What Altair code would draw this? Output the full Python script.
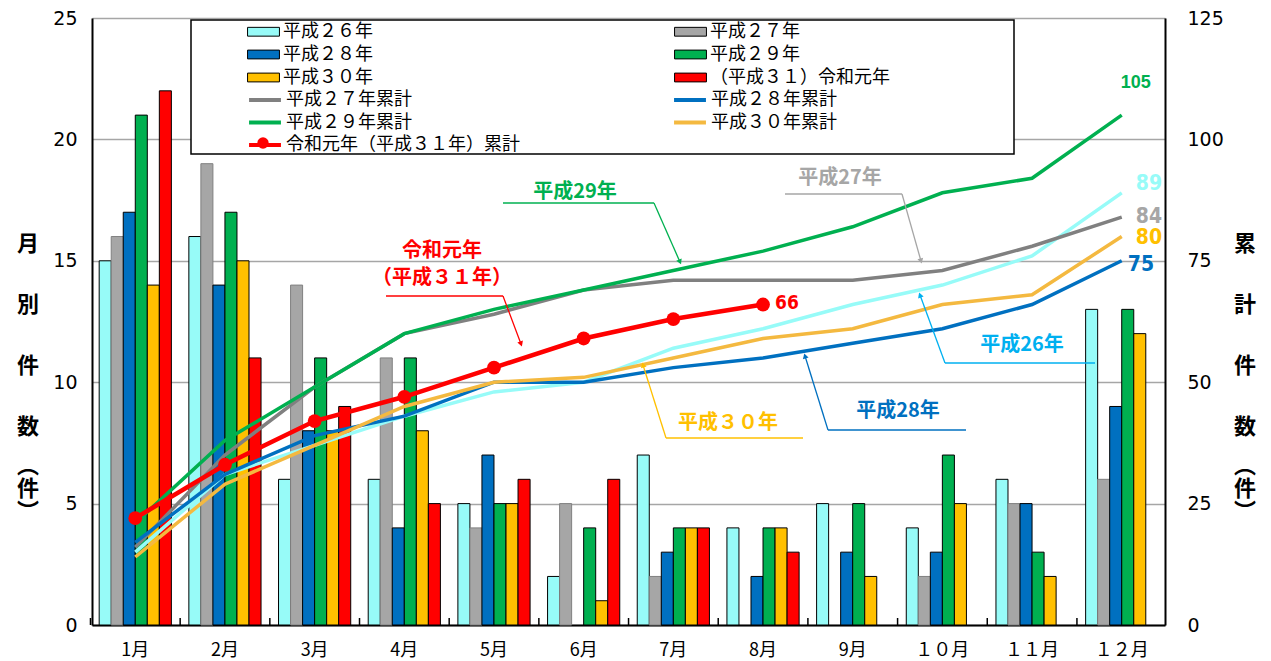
import altair as alt
import pandas as pd
from itertools import accumulate

# ---------------- data ----------------
months = ["1月", "2月", "3月", "4月", "5月", "6月", "7月", "8月", "9月", "１０月", "１１月", "１２月"]

bar_names = ["平成２６年", "平成２７年", "平成２８年", "平成２９年", "平成３０年", "（平成３１）令和元年"]
cum_names = ["平成２６年累計", "平成２７年累計", "平成２８年累計", "平成２９年累計", "平成３０年累計",
             "令和元年（平成３１年）累計"]

h26 = [15, 16, 6, 6, 5, 2, 7, 4, 5, 4, 6, 13]
h27 = [16, 19, 14, 11, 4, 5, 2, 0, 0, 2, 5, 6]
h28 = [17, 14, 8, 4, 7, 0, 3, 2, 3, 3, 5, 9]
h29 = [21, 17, 11, 11, 5, 4, 4, 4, 5, 7, 3, 13]
h30 = [14, 15, 8, 8, 5, 1, 4, 4, 2, 5, 2, 12]
r1 = [22, 11, 9, 5, 6, 6, 4, 3]

left_ticks = [0, 5, 10, 15, 20, 25]
right_ticks = [0, 25, 50, 75, 100, 125]

bar_colors = ["#97FBF8", "#A6A6A6", "#0070C0", "#00B050", "#FFC000", "#FF0000"]
line_colors = ["#97FBF8", "#808080", "#0070C0", "#00B050", "#F4B940", "#FF0000"]
label_colors = ["#97FBF8", "#A6A6A6", "#0070C0", "#00B050", "#FFC000", "#FF0000"]

# legend entry order (legend columns fill top-to-bottom)
bar_legend_order = [0, 2, 4, 1, 3, 5]
line_legend_order = [1, 3, 5, 2, 4]

series_values = [h26, h27, h28, h29, h30, r1]

bar_rows = []
for name, vals in zip(bar_names, series_values):
    for m, v in zip(months, vals):
        bar_rows.append({"month": m, "series": name, "value": v})
bars_df = pd.DataFrame(bar_rows)

cum_rows = []
for name, vals in zip(cum_names, series_values):
    for m, c in zip(months, accumulate(vals)):
        cum_rows.append({"month": m, "series": name, "cum": c})
cum_df = pd.DataFrame(cum_rows)

month_df = pd.DataFrame({"month": months})
one = pd.DataFrame({"k": [0]})

JP = "Noto Sans CJK JP"
NUM = "DejaVu Sans"
NARROW = "Liberation Sans Narrow, DejaVu Sans Condensed, sans-serif"

# ---------------- encodings ----------------
x_main = alt.X(
    "month:N", sort=months,
    scale=alt.Scale(paddingInner=0.195, paddingOuter=0.08),
    axis=alt.Axis(title=None, labelAngle=0, ticks=False, domainColor="black", domainWidth=2,
                  labelFont=JP, labelFontSize=18, labelColor="black", labelPadding=16),
)
x_plain = alt.X("month:N", sort=months)

y_left = alt.Y(
    "value:Q", scale=alt.Scale(domain=[0, 25]),
    axis=alt.Axis(title=None, values=left_ticks, grid=True, gridColor="#A6A6A6", gridWidth=1.5,
                  ticks=False, domainColor="black", domainWidth=2, labelFont=NUM, labelFontSize=19,
                  labelColor="black", labelPadding=15),
)
y_right = alt.Y(
    "cum:Q", scale=alt.Scale(domain=[0, 125]),
    axis=alt.Axis(title=None, orient="right", values=right_ticks, grid=False, ticks=False,
                  domainColor="black", domainWidth=2, labelFont=NUM, labelFontSize=19,
                  labelColor="black", labelPadding=22),
)

# ---------------- bars ----------------
bars = alt.Chart(bars_df).transform_filter("datum.value > 0").mark_bar(strokeWidth=1).encode(
    x=x_main,
    xOffset=alt.XOffset("series:N", sort=bar_names,
                        scale=alt.Scale(domain=bar_names, paddingInner=0, paddingOuter=0)),
    y=y_left,
    fill=alt.Fill("series:N",
                  scale=alt.Scale(domain=[bar_names[i] for i in bar_legend_order],
                                  range=[bar_colors[i] for i in bar_legend_order]),
                  legend=alt.Legend(orient="none", legendX=160, legendY=2, columns=2,
                                    columnPadding=299, rowPadding=2, title=None, padding=0,
                                    symbolType="M-1.45,-0.4H1.45V0.4H-1.45Z", symbolSize=484,
                                    symbolStrokeColor="black", symbolStrokeWidth=1,
                                    labelFont=JP, labelFontSize=18, labelColor="black",
                                    labelOffset=8, labelLimit=400)),
    stroke=alt.condition(f"datum.series == '{bar_names[1]}'", alt.value("#808080"), alt.value("black")),
)

# inner tick marks between months
month_ticks = alt.Chart(month_df).mark_rule(color="black", strokeWidth=1.5, xOffset=-8.7).encode(
    x=alt.X("month:N", sort=months, bandPosition=0),
    y=alt.value(600), y2=alt.value(607),
)

# ---------------- cumulative lines ----------------
h26_line = alt.Chart(cum_df).transform_filter(f"datum.series == '{cum_names[0]}'").mark_line(
    strokeWidth=3.5, color=line_colors[0]).encode(x=x_plain, y=y_right)

lines = alt.Chart(cum_df).transform_filter(f"datum.series != '{cum_names[0]}'").mark_line().encode(
    x=x_plain, y=y_right,
    stroke=alt.Stroke("series:N",
                      scale=alt.Scale(domain=[cum_names[i] for i in line_legend_order],
                                      range=[line_colors[i] for i in line_legend_order]),
                      legend=alt.Legend(orient="none", legendX=160, legendY=69, columns=2,
                                        columnPadding=146, rowPadding=0.5, title=None, padding=0,
                                        symbolType="M-1.45,0H1.45", symbolSize=484,
                                        symbolStrokeWidth=4, labelFont=JP, labelFontSize=18,
                                        labelColor="black", labelOffset=8, labelLimit=400)),
    strokeWidth=alt.condition(f"datum.series == '{cum_names[5]}'", alt.value(4.5), alt.value(3.5)),
)

r1_points = alt.Chart(cum_df).transform_filter(f"datum.series == '{cum_names[5]}'").mark_circle(
    size=190, color="#FF0000", opacity=1).encode(x=x_plain, y=y_right)


def end_label(idx, last_month, dx, dy, size, font, align="left"):
    return alt.Chart(cum_df).transform_filter(
        f"datum.series == '{cum_names[idx]}' && datum.month == '{last_month}'"
    ).mark_text(dx=dx, dy=dy, align=align, baseline="middle", font=font, fontSize=size,
                fontWeight="bold", color=label_colors[idx]).encode(
        x=x_plain, y=y_right, text=alt.Text("cum:Q"))


labels = [
    end_label(3, months[11], 14, -32, 18, "Liberation Sans", "center"),
    end_label(0, months[11], 14, -9, 21, NARROW),
    end_label(1, months[11], 14, 0, 21, NARROW),
    end_label(4, months[11], 14, 1, 21, NARROW),
    end_label(2, months[11], 6, 4, 21, NARROW),
    end_label(5, months[7], 12, -2, 19, NARROW),
]

inner = alt.layer(h26_line, lines, r1_points, *labels)


# ---------------- annotations ----------------
def annotation(texts, color, tx, ty, ux1, ux2, uy, sx, tipx, tipy, ang, gap=27):
    layers = []
    for i, t in enumerate(texts):
        layers.append(alt.Chart(one).mark_text(text=t, color=color, font=JP, fontSize=20,
                                              fontWeight="bold", align="center", baseline="middle")
                      .encode(x=alt.value(tx), y=alt.value(ty + i * gap)))
    layers.append(alt.Chart(one).mark_rule(color=color, strokeWidth=1.5).encode(
        x=alt.value(ux1), x2=alt.value(ux2), y=alt.value(uy), y2=alt.value(uy)))
    layers.append(alt.Chart(one).mark_rule(color=color, strokeWidth=1.3).encode(
        x=alt.value(sx), x2=alt.value(tipx), y=alt.value(uy), y2=alt.value(tipy)))
    layers.append(alt.Chart(one).mark_point(shape="triangle-up", filled=True, size=35, color=color,
                                            opacity=1, angle=ang).encode(
        x=alt.value(tipx), y=alt.value(tipy)))
    return layers


ann = []
ann += annotation(["平成29年"], "#00B050", 483, 174, 411, 562, 185, 562, 588, 244, 156)
ann += annotation(["令和元年", "（平成３１年）"], "#FF0000", 350, 233, 294, 411, 278, 411, 429, 326, 160)
ann += annotation(["平成27年"], "#A6A6A6", 748, 160, 693, 810, 176, 810, 829, 243, 164)
ann += annotation(["平成26年"], "#00B0F0", 930, 327, 853, 1003, 345, 853, 828, 277, 340)
ann += annotation(["平成28年"], "#0070C0", 806, 393, 736, 874, 412, 736, 713, 338, 343)
ann += annotation(["平成３０年"], "#FFC000", 636, 405, 574, 711, 420, 574, 551, 347, 342)

# axis titles (vertical text)
titles = [
    alt.Chart(one).mark_text(text="月\n別\n件\n数", lineBreak="\n", lineHeight=61, font=JP, fontSize=22,
                             fontWeight="bold", align="center", baseline="top", color="black")
    .encode(x=alt.value(-64), y=alt.value(216)),
    alt.Chart(one).mark_text(text="︵\n件\n︶", lineBreak="\n", lineHeight=23, font=JP, fontSize=22,
                             fontWeight="bold", align="center", baseline="top", color="black")
    .encode(x=alt.value(-64), y=alt.value(438)),
    alt.Chart(one).mark_text(text="累\n計\n件\n数", lineBreak="\n", lineHeight=61, font=JP, fontSize=22,
                             fontWeight="bold", align="center", baseline="top", color="black")
    .encode(x=alt.value(1153), y=alt.value(216)),
    alt.Chart(one).mark_text(text="︵\n件\n︶", lineBreak="\n", lineHeight=23, font=JP, fontSize=22,
                             fontWeight="bold", align="center", baseline="top", color="black")
    .encode(x=alt.value(1153), y=alt.value(438)),
]

# legend frame and dot for the 令和元年 cumulative entry
legend_box = alt.Chart(one).mark_rect(fill="white", stroke="black", strokeWidth=1.5).encode(
    x=alt.value(99), x2=alt.value(922), y=alt.value(2), y2=alt.value(136))
legend_dot = alt.Chart(one).mark_circle(size=130, color="#FF0000", opacity=1).encode(
    x=alt.value(171), y=alt.value(125))

chart = alt.layer(
    legend_box, bars, month_ticks, inner, *ann, *titles, legend_dot
).resolve_scale(y="independent").properties(
    width=1073, height=607,
    autosize=alt.AutoSizeParams(type="none"),
    padding={"left": 84, "top": 10, "right": 96, "bottom": 35},
).configure_view(stroke=None).configure(background="white")

chart.save("out.html", embed_options={"renderer": "svg", "actions": False})
